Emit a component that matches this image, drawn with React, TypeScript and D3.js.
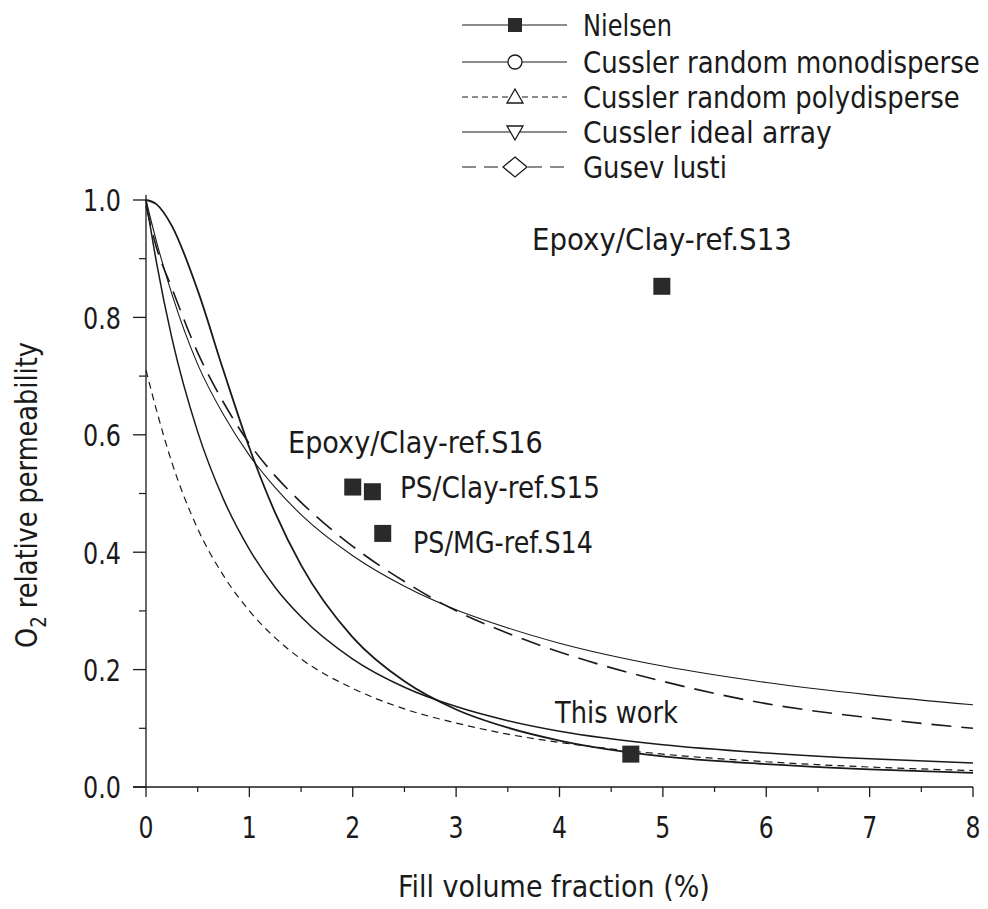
import React, { useLayoutEffect, useRef } from 'react';
import * as d3 from 'd3';

// ---- data ----
const xSamples = [0, 0.1, 0.25, 0.5, 0.75, 1, 1.25, 1.5, 2, 2.5, 3, 3.5, 4, 5, 6, 7, 8];
const nielsenCurve = [1.0, 0.93, 0.84, 0.72, 0.634, 0.565, 0.51, 0.464, 0.394, 0.342, 0.302, 0.271, 0.245, 0.206, 0.178, 0.157, 0.14];
const monoCurve = [1.0, 0.895, 0.765, 0.605, 0.49, 0.405, 0.34, 0.29, 0.218, 0.17, 0.137, 0.113, 0.095, 0.072, 0.058, 0.048, 0.041];
const polyCurve = [0.71, 0.643, 0.553, 0.44, 0.36, 0.3, 0.254, 0.218, 0.168, 0.133, 0.109, 0.09, 0.076, 0.056, 0.043, 0.034, 0.028];
const idealCurve = [1.0, 0.993, 0.956, 0.846, 0.709, 0.578, 0.467, 0.378, 0.255, 0.18, 0.132, 0.101, 0.079, 0.052, 0.039, 0.03, 0.024];
const gusevCurve = [0.99, 0.92, 0.85, 0.74, 0.655, 0.585, 0.53, 0.485, 0.41, 0.35, 0.3, 0.262, 0.23, 0.18, 0.142, 0.118, 0.1];

const pointX = [2.0, 2.19, 2.29, 4.99, 4.69];
const pointY = [0.511, 0.503, 0.432, 0.853, 0.056];

const xTicks = [0, 1, 2, 3, 4, 5, 6, 7, 8];
const xMinorTicks = [0.5, 1.5, 2.5, 3.5, 4.5, 5.5, 6.5, 7.5];
const yTicks = [0, 0.2, 0.4, 0.6, 0.8, 1.0];
const yMinorTicks = [0.1, 0.3, 0.5, 0.7, 0.9];
const yTickLabels = ['0.0', '0.2', '0.4', '0.6', '0.8', '1.0'];

const legendLabels = [
  'Nielsen',
  'Cussler random monodisperse',
  'Cussler random polydisperse',
  'Cussler ideal array',
  'Gusev lusti',
];

const FONT = "'DejaVu Sans', sans-serif";
const INK = '#1a1a1a';

export default function App() {
  const svgRef = useRef<SVGSVGElement>(null);

  // compress texts horizontally to the widths measured in the reference
  useLayoutEffect(() => {
    const svg = svgRef.current;
    if (!svg) return;
    svg.querySelectorAll('text[data-w]').forEach((node) => {
      const t = node as SVGTextElement;
      const w = Number(t.getAttribute('data-w'));
      const x0 = Number(t.getAttribute('x') || 0);
      const len = t.getComputedTextLength();
      if (len > 0) {
        t.setAttribute('transform', `translate(${x0},0) scale(${w / len},1) translate(${-x0},0)`);
      }
    });
  }, []);

  const x = d3.scaleLinear().domain([0, 8]).range([146, 973]);
  const y = d3.scaleLinear().domain([0, 1]).range([787, 200]);

  const line = d3
    .line<number>()
    .x((_, i) => x(xSamples[i]))
    .y((d) => y(d))
    .curve(d3.curveMonotoneX);

  const curves = [
    { data: nielsenCurve, w: 1.1, dash: undefined },
    { data: monoCurve, w: 1.5, dash: undefined },
    { data: polyCurve, w: 1.2, dash: '7,5' },
    { data: idealCurve, w: 1.8, dash: undefined },
    { data: gusevCurve, w: 1.6, dash: '20,10' },
  ];

  const legendYs = [25, 62, 97, 132, 167];
  const legendTextW = [89, 397, 377, 249, 144];
  const legendDash = [undefined, undefined, '6,4', undefined, '14,8'];
  const mx = 515;

  const marker = (i: number, cy: number) => {
    const s = { fill: 'white', stroke: INK, strokeWidth: 1.3 } as any;
    if (i === 0) return <rect x={mx - 7} y={cy - 7} width={14} height={14} fill="#2a2a2a" />;
    if (i === 1) return <circle cx={mx} cy={cy} r={7} {...s} />;
    if (i === 2) return <path d={`M${mx},${cy - 8} L${mx + 8},${cy + 6} L${mx - 8},${cy + 6} Z`} {...s} />;
    if (i === 3) return <path d={`M${mx},${cy + 8} L${mx + 8},${cy - 6} L${mx - 8},${cy - 6} Z`} {...s} />;
    return <path d={`M${mx},${cy - 10} L${mx + 12},${cy} L${mx},${cy + 10} L${mx - 12},${cy} Z`} {...s} />;
  };

  const annotations = [
    { t: 'Epoxy/Clay-ref.S13', x: 532, y: 250, w: 260 },
    { t: 'Epoxy/Clay-ref.S16', x: 288, y: 453, w: 255 },
    { t: 'PS/Clay-ref.S15', x: 400, y: 498, w: 200 },
    { t: 'PS/MG-ref.S14', x: 413, y: 553, w: 180 },
    { t: 'This work', x: 555, y: 723, w: 123 },
  ];

  return (
    <svg
      ref={svgRef}
      width={988}
      height={909}
      style={{ position: 'absolute', left: 0, top: 0, background: 'white' }}
      fontFamily={FONT}
    >
      <rect x={0} y={0} width={988} height={909} fill="white" />

      {/* axes */}
      <line x1={x(0)} x2={x(0)} y1={y(0)} y2={195} stroke={INK} strokeWidth={1.3} />
      <line x1={133} x2={x(8)} y1={y(0)} y2={y(0)} stroke={INK} strokeWidth={1.3} />
      {xTicks.map((t) => (
        <line key={'xt' + t} x1={x(t)} x2={x(t)} y1={y(0)} y2={y(0) + 10} stroke={INK} strokeWidth={1.3} />
      ))}
      {xMinorTicks.map((t) => (
        <line key={'xm' + t} x1={x(t)} x2={x(t)} y1={y(0)} y2={y(0) + 5} stroke={INK} strokeWidth={1.2} />
      ))}
      {yTicks.map((t) => (
        <line key={'yt' + t} x1={x(0) - 13} x2={x(0)} y1={y(t)} y2={y(t)} stroke={INK} strokeWidth={1.3} />
      ))}
      {yMinorTicks.map((t) => (
        <line key={'ym' + t} x1={x(0) - 7} x2={x(0)} y1={y(t)} y2={y(t)} stroke={INK} strokeWidth={1.2} />
      ))}
      {xTicks.map((t) => (
        <text key={'xl' + t} x={x(t)} y={838} fontSize={31} textAnchor="middle" fill={INK} data-w={15}>
          {String(t)}
        </text>
      ))}
      {yTicks.map((t, i) => (
        <text key={'yl' + t} x={121} y={y(t) + 11.5} fontSize={31} textAnchor="end" fill={INK} data-w={38}>
          {yTickLabels[i]}
        </text>
      ))}

      {/* axis titles */}
      <text x={398} y={897} fontSize={31} fill={INK} data-w={312}>
        Fill volume fraction (%)
      </text>
      <g transform="translate(37,648) rotate(-90)">
        <text x={0} y={0} fontSize={31} fill={INK} data-w={306}>
          O
          <tspan fontSize={22} dy={9}>2</tspan>
          <tspan dy={-9}>{' relative permeability'}</tspan>
        </text>
      </g>

      {/* curves */}
      {curves.map((c, i) => (
        <path
          key={'c' + i}
          d={line(c.data) || ''}
          fill="none"
          stroke={INK}
          strokeWidth={c.w}
          strokeDasharray={c.dash}
        />
      ))}

      {/* data points */}
      {pointX.map((px, i) => (
        <rect key={'p' + i} x={x(px) - 8.5} y={y(pointY[i]) - 8.5} width={17} height={17} fill="#2a2a2a" />
      ))}

      {/* annotations */}
      {annotations.map((a) => (
        <text key={a.t} x={a.x} y={a.y} fontSize={31} fill={INK} data-w={a.w}>
          {a.t}
        </text>
      ))}

      {/* legend */}
      {legendLabels.map((lab, i) => (
        <g key={lab}>
          <line
            x1={462}
            x2={567}
            y1={legendYs[i]}
            y2={legendYs[i]}
            stroke={INK}
            strokeWidth={1.1}
            strokeDasharray={legendDash[i]}
          />
          {marker(i, legendYs[i])}
          <text x={583} y={legendYs[i] + 11} fontSize={31} fill={INK} data-w={legendTextW[i]}>
            {lab}
          </text>
        </g>
      ))}
    </svg>
  );
}
